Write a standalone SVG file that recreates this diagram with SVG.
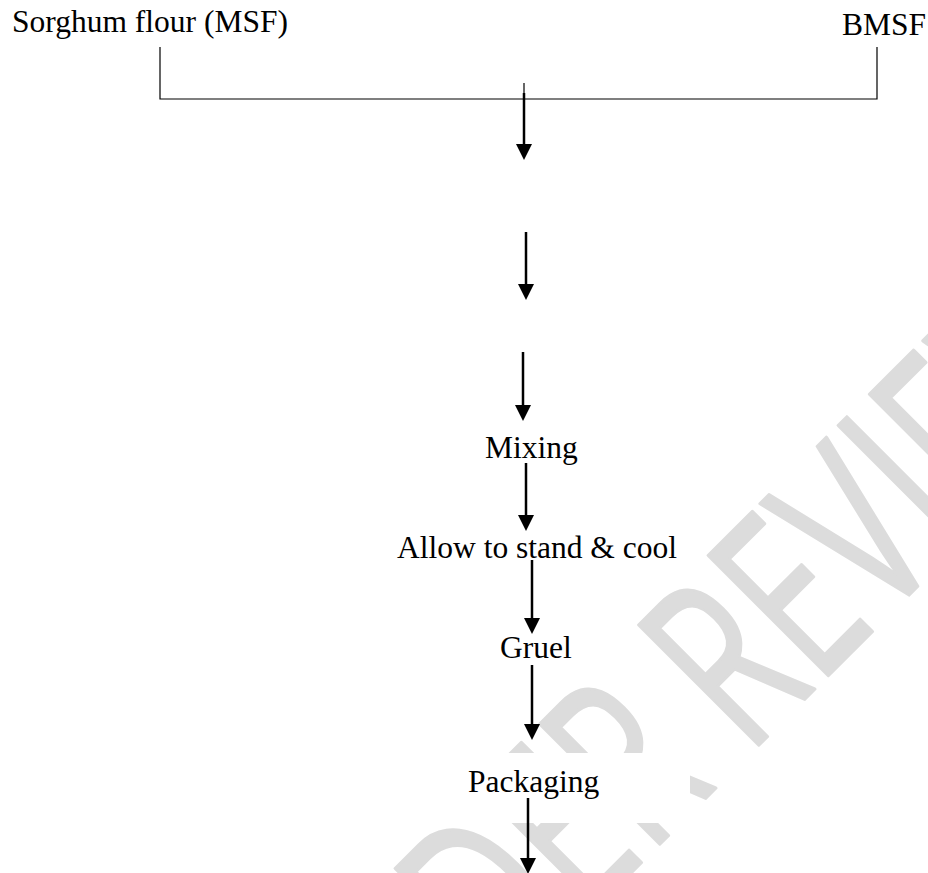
<svg xmlns="http://www.w3.org/2000/svg" width="928" height="873" viewBox="0 0 928 873">
  <style>
    .lbl { font-family: "Liberation Serif", "Times New Roman", serif; font-size: 31.5px; fill: #000; }
    .thin { stroke: #000; stroke-width: 1.2; fill: none; }
    .arr { stroke: #000; stroke-width: 2.5; fill: none; marker-end: url(#head); }
    .wm { font-family: "Open Sans", "Noto Sans", sans-serif; font-weight: 400; font-size: 238px; fill: #dcdcdc; stroke: #dcdcdc; stroke-width: 3; stroke-linejoin: round; }
  </style>
  <defs>
    <marker id="head" markerUnits="userSpaceOnUse" markerWidth="16" markerHeight="16" refX="0" refY="8" orient="auto">
      <path d="M0,0 L16,8 L0,16 Z" fill="#000"/>
    </marker>
  </defs>
  <rect width="928" height="873" fill="#fff"/>
  <g id="watermark">
    <text class="wm" transform="translate(337,1167) rotate(-45) scale(0.67,1)">UNDER REVIEW</text>
    <rect x="400" y="753" width="290" height="70" fill="#fff"/>
  </g>
  <g id="connectors">
    <path class="thin" d="M160,47 V99 H877 V47"/>
    <line class="thin" x1="524" y1="83" x2="524" y2="99"/>
    <line class="arr" x1="524" y1="93" x2="524" y2="144"/>
    <line class="arr" x1="526" y1="232" x2="526" y2="284"/>
    <line class="arr" x1="523" y1="352" x2="523" y2="405"/>
    <line class="arr" x1="526" y1="463" x2="526" y2="515"/>
    <line class="arr" x1="532" y1="560" x2="532" y2="618"/>
    <line class="arr" x1="532" y1="665" x2="532" y2="724"/>
    <line class="arr" x1="528" y1="798" x2="528" y2="858"/>
  </g>
  <g id="node-msf"><text class="lbl" x="12" y="32">Sorghum flour (MSF)</text></g>
  <g id="node-bmsf"><text class="lbl" x="842" y="35">BMSF</text></g>
  <g id="node-mixing"><text class="lbl" x="485" y="458">Mixing</text></g>
  <g id="node-stand"><text class="lbl" x="397" y="558">Allow to stand &amp; cool</text></g>
  <g id="node-gruel"><text class="lbl" x="500" y="658">Gruel</text></g>
  <g id="node-packaging"><text class="lbl" x="468" y="792">Packaging</text></g>
</svg>
